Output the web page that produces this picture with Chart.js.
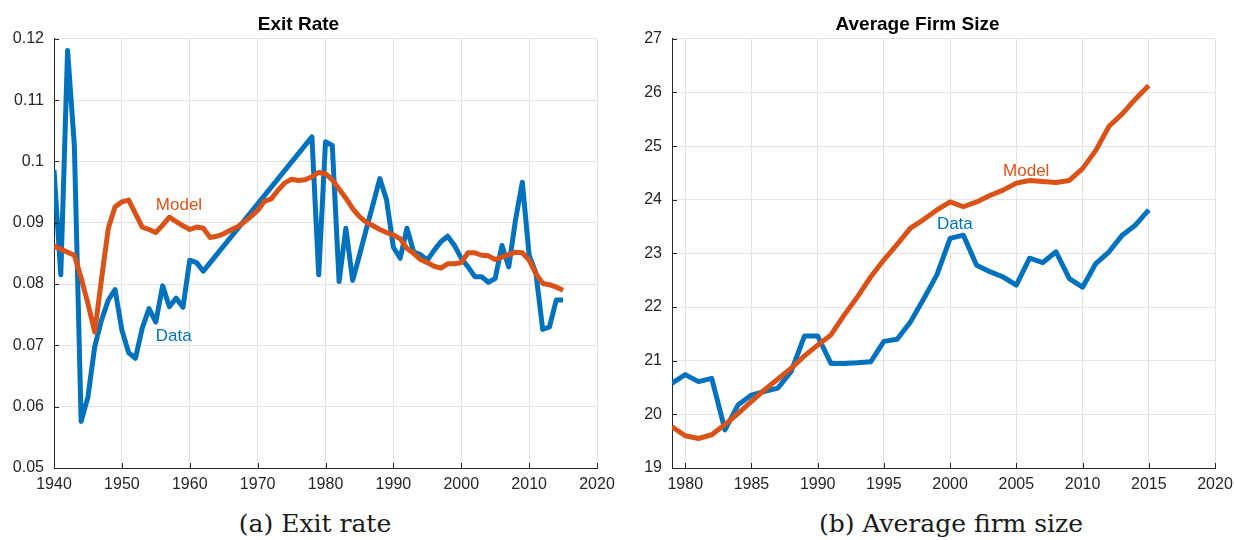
<!DOCTYPE html>
<html>
<head>
<meta charset="utf-8">
<script src="https://cdn.jsdelivr.net/npm/chart.js@4.4.1/dist/chart.umd.min.js"></script>
<style>
  html, body { margin: 0; padding: 0; background: #fff; }
  #wrap { position: relative; width: 1234px; height: 540px; overflow: hidden; }
  canvas { position: absolute; top: 0; }
  .cap { position: absolute; top: 511px; width: 400px; text-align: center;
         font: 25px "DejaVu Serif", "Liberation Serif", serif; color: #1a1a1a; line-height: 25px; white-space: nowrap; }
</style>
</head>
<body>
<div id="wrap">
  <canvas id="exitChart" width="630" height="500" style="left:0"></canvas>
  <canvas id="sizeChart" width="614" height="500" style="left:620px"></canvas>
  <div class="cap" style="left:115px">(a) Exit rate</div>
  <div class="cap" style="left:751px">(b) Average firm size</div>
</div>
<script>
// ---- data: exit rate (panel a) ----
const exitYears = [];
for (let yr = 1940; yr <= 2015; yr++) exitYears.push(yr);

// Data series has no observations 1963-1977 (drawn as a straight segment)
const exitData = [
  0.0986, 0.0815, 0.1181, 0.1026, 0.0576, 0.0616, 0.0698, 0.0741, 0.0774, 0.0791,
  0.0725, 0.0688, 0.0679, 0.0728, 0.0760, 0.0738, 0.0797, 0.0763, 0.0777, 0.0762,
  0.0839, 0.0835, 0.0821, null, null, null, null, null, null, null,
  null, null, null, null, null, null, null, null, 0.1040, 0.0815,
  0.1032, 0.1026, 0.0804, 0.0891, 0.0806, 0.0847, 0.0889, 0.0930, 0.0972, 0.0937,
  0.0860, 0.0842, 0.0891, 0.0852, 0.0848, 0.0839, 0.0855, 0.0869, 0.0878, 0.0863,
  0.0842, 0.0828, 0.0812, 0.0812, 0.0803, 0.0809, 0.0863, 0.0828, 0.0905, 0.0966,
  0.0847, 0.0818, 0.0726, 0.0730, 0.0774, 0.0774
];
const exitModel = [
  0.0862, 0.0857, 0.0852, 0.0847, 0.0810, 0.0768, 0.0722, 0.0808, 0.0891, 0.0926,
  0.0934, 0.0937, 0.0915, 0.0893, 0.0889, 0.0884, 0.0896, 0.0909, 0.0902, 0.0895,
  0.0889, 0.0893, 0.0891, 0.0876, 0.0878, 0.0882, 0.0888, 0.0893, 0.0901, 0.0910,
  0.0920, 0.0935, 0.0939, 0.0953, 0.0965, 0.0971, 0.0969, 0.0970, 0.0975, 0.0982,
  0.0980, 0.0970, 0.0955, 0.0940, 0.0923, 0.0910, 0.0901, 0.0895, 0.0889, 0.0884,
  0.0880, 0.0874, 0.0858, 0.0850, 0.0840, 0.0835, 0.0829, 0.0826, 0.0833, 0.0833,
  0.0835, 0.0851, 0.0851, 0.0847, 0.0846, 0.0840, 0.0844, 0.0848, 0.0852, 0.0851,
  0.0839, 0.0817, 0.0801, 0.0799, 0.0795, 0.0790
];
const exitXTicks = [1940, 1950, 1960, 1970, 1980, 1990, 2000, 2010, 2020];
const exitYTicks = [0.05, 0.06, 0.07, 0.08, 0.09, 0.10, 0.11, 0.12];

// ---- data: average firm size (panel b) ----
const sizeYears = [];
for (let yr = 1979; yr <= 2015; yr++) sizeYears.push(yr);

const sizeData = [
  20.58, 20.74, 20.61, 20.67, 19.71, 20.18, 20.36, 20.43, 20.49, 20.80,
  21.46, 21.46, 20.95, 20.95, 20.96, 20.98, 21.36, 21.40, 21.72, 22.15,
  22.60, 23.28, 23.34, 22.78, 22.66, 22.56, 22.41, 22.91, 22.83, 23.03,
  22.53, 22.37, 22.81, 23.03, 23.34, 23.53, 23.81
];
const sizeModel = [
  19.77, 19.60, 19.55, 19.62, 19.81, 20.02, 20.24, 20.46, 20.66, 20.86,
  21.09, 21.29, 21.48, 21.85, 22.19, 22.56, 22.88, 23.17, 23.47, 23.63,
  23.81, 23.96, 23.87, 23.96, 24.08, 24.18, 24.31, 24.36, 24.34, 24.32,
  24.36, 24.58, 24.92, 25.37, 25.60, 25.88, 26.13
];
const sizeXTicks = [1980, 1985, 1990, 1995, 2000, 2005, 2010, 2015, 2020];
const sizeYTicks = [19, 20, 21, 22, 23, 24, 25, 26, 27];

const BLUE = '#0072BD';
const ORANGE = '#D95319';
const AXIS = '#262626';
const FONT = '"Liberation Sans", Arial, Helvetica, sans-serif';

// MATLAB-style tick marks pointing into the plot
const innerTicks = {
  id: 'innerTicks',
  afterDraw(chart) {
    const { ctx, chartArea: a, scales: { x, y } } = chart;
    ctx.save();
    ctx.strokeStyle = AXIS;
    ctx.lineWidth = 1;
    ctx.beginPath();
    x.ticks.forEach(t => {
      const px = Math.round(x.getPixelForValue(t.value)) + 0.5;
      ctx.moveTo(px, a.bottom); ctx.lineTo(px, a.bottom - 5);
    });
    y.ticks.forEach(t => {
      const py = Math.round(y.getPixelForValue(t.value)) + 0.5;
      ctx.moveTo(a.left, py); ctx.lineTo(a.left + 5, py);
    });
    ctx.stroke();
    ctx.restore();
  }
};

// "Model" / "Data" text labels placed in data coordinates
const lineLabels = {
  id: 'lineLabels',
  afterDatasetsDraw(chart, args, opts) {
    const { ctx, scales: { x, y } } = chart;
    ctx.save();
    ctx.font = '17px ' + FONT;
    ctx.textAlign = 'left';
    ctx.textBaseline = 'middle';
    (opts.items || []).forEach(it => {
      ctx.fillStyle = it.color;
      ctx.fillText(it.text, x.getPixelForValue(it.x), y.getPixelForValue(it.y));
    });
    ctx.restore();
  }
};

function toPoints(xs, ys) {
  return xs.map((v, i) => ({ x: v, y: ys[i] }));
}

function makeChart(id, o) {
  new Chart(document.getElementById(id), {
    type: 'line',
    data: {
      datasets: [
        { label: 'Data', data: toPoints(o.years, o.data), borderColor: BLUE, order: 2 },
        { label: 'Model', data: toPoints(o.years, o.model), borderColor: ORANGE, order: 1 }
      ]
    },
    options: {
      responsive: false,
      animation: false,
      spanGaps: true,
      layout: { padding: { left: 0, right: o.padRight, top: 0, bottom: 0 } },
      elements: {
        line: { borderWidth: 5, tension: 0, borderJoinStyle: 'round', fill: false },
        point: { radius: 0, hoverRadius: 0 }
      },
      plugins: {
        legend: { display: false },
        tooltip: { enabled: false },
        title: {
          display: true,
          text: o.title,
          color: '#000',
          font: { family: FONT, size: 19, weight: 'bold', lineHeight: 1.2 },
          padding: { top: 13, bottom: 3 }
        },
        lineLabels: { items: o.labels }
      },
      scales: {
        x: {
          type: 'linear',
          min: o.xMin, max: o.xMax,
          afterBuildTicks: s => { s.ticks = o.xTicks.map(v => ({ value: v })); },
          afterFit: s => { s.height = 32; s.paddingLeft = 0; s.paddingRight = 0; },
          grid: { color: '#e3e3e3', lineWidth: 1, drawTicks: false },
          border: { color: AXIS, width: 1 },
          ticks: { color: AXIS, padding: 7, maxRotation: 0, font: { family: FONT, size: 16 },
                   callback: v => String(v) }
        },
        y: {
          min: o.yMin, max: o.yMax,
          afterBuildTicks: s => { s.ticks = o.yTicks.map(v => ({ value: v })); },
          afterFit: s => { s.width = o.yWidth; s.paddingTop = 0; s.paddingBottom = 0; },
          grid: { color: '#e3e3e3', lineWidth: 1, drawTicks: false },
          border: { color: AXIS, width: 1 },
          ticks: { color: AXIS, padding: 10, font: { family: FONT, size: 16 },
                   callback: v => String(+Number(v).toFixed(2)) }
        }
      }
    },
    plugins: [innerTicks, lineLabels]
  });
}

makeChart('exitChart', {
  title: 'Exit Rate',
  years: exitYears, data: exitData, model: exitModel,
  xMin: 1940, xMax: 2020, yMin: 0.05, yMax: 0.12,
  xTicks: exitXTicks, yTicks: exitYTicks,
  yWidth: 54, padRight: 33,
  labels: [
    { text: 'Model', x: 1955, y: 0.0929, color: ORANGE },
    { text: 'Data', x: 1955, y: 0.0715, color: BLUE }
  ]
});

makeChart('sizeChart', {
  title: 'Average Firm Size',
  years: sizeYears, data: sizeData, model: sizeModel,
  xMin: 1979, xMax: 2020, yMin: 19, yMax: 27,
  xTicks: sizeXTicks, yTicks: sizeYTicks,
  yWidth: 52, padRight: 19,
  labels: [
    { text: 'Model', x: 2004, y: 24.53, color: ORANGE },
    { text: 'Data', x: 1999, y: 23.55, color: BLUE }
  ]
});
</script>
</body>
</html>
